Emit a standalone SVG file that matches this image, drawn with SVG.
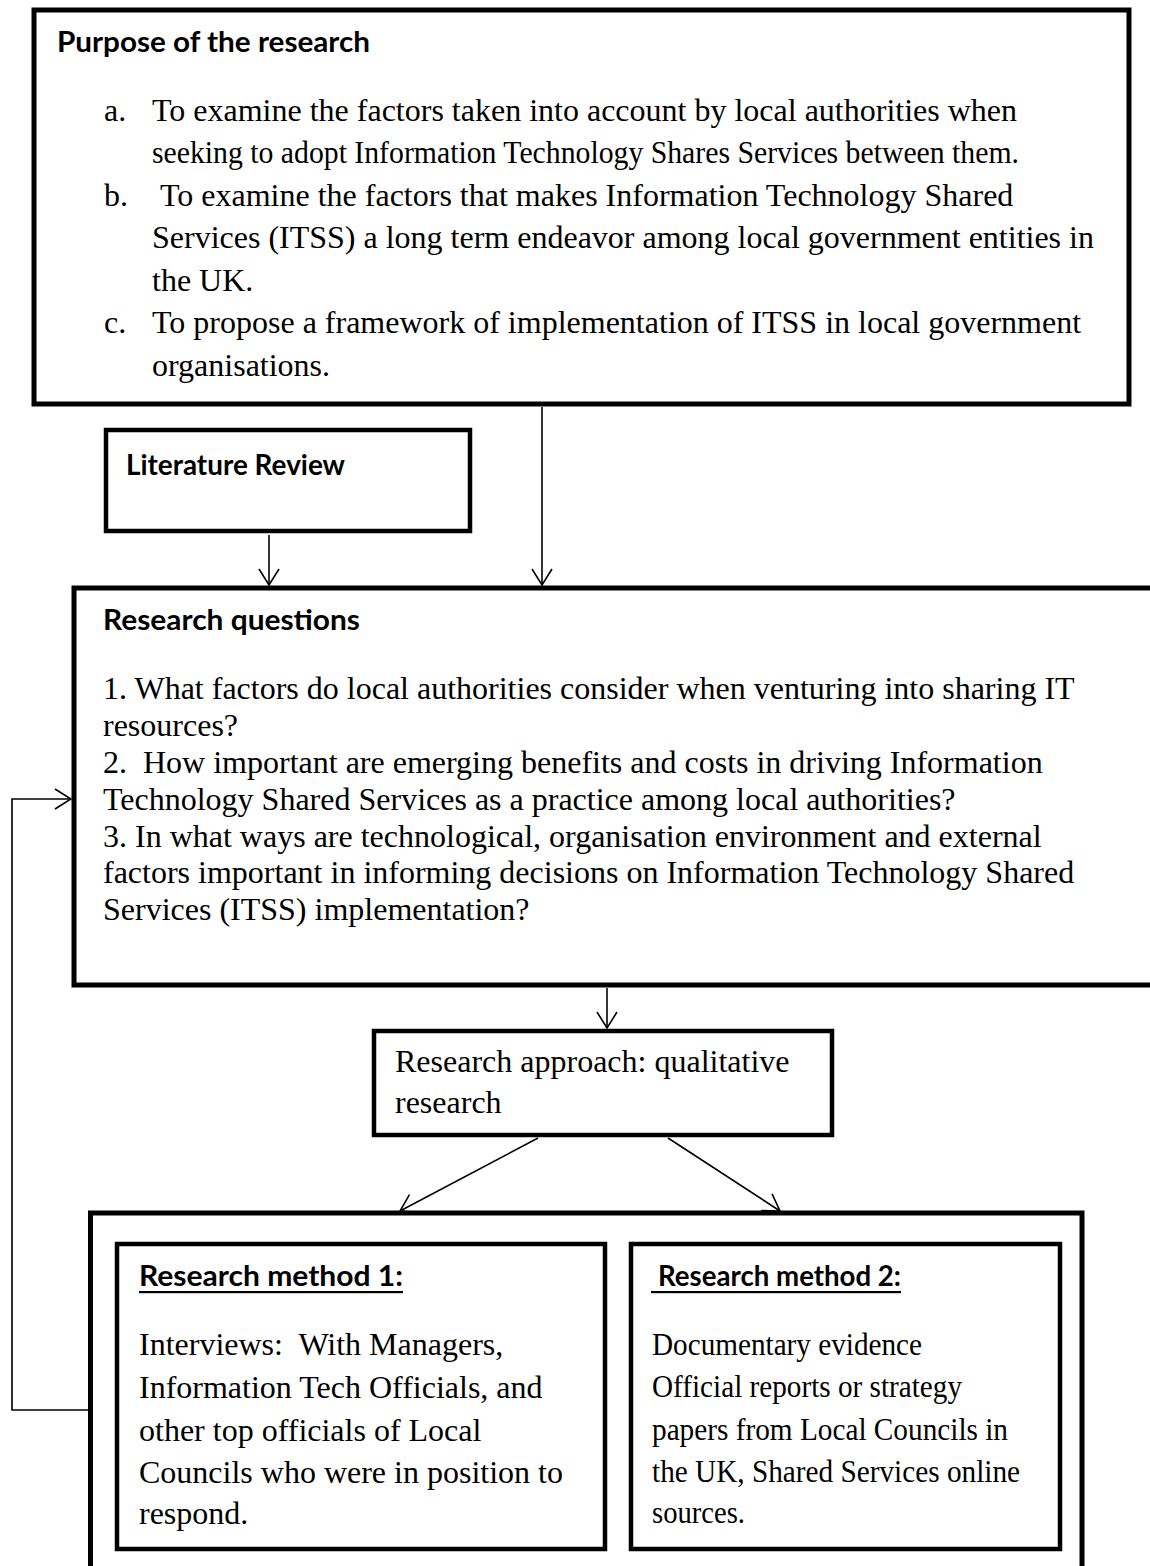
<svg xmlns="http://www.w3.org/2000/svg" width="1150" height="1566" viewBox="0 0 1150 1566">
  <style>
    .box { fill: #ffffff; stroke: #000000; }
    .head { font-family: Lato, "Open Sans", "Liberation Sans", sans-serif; font-weight: 700; font-size: 29px; fill: #000000; }
    .body { font-family: "Liberation Serif", "Times New Roman", serif; font-size: 32px; fill: #000000; }
    .small { font-size: 31px; }
    .link { fill: none; stroke: #000000; stroke-width: 1.6; }
  </style>
  <defs>
    <marker id="arrow" viewBox="0 0 18 22" refX="17" refY="11" markerWidth="18" markerHeight="22" markerUnits="userSpaceOnUse" orient="auto">
      <path d="M1,1 L17,11 L1,21" fill="none" stroke="#000000" stroke-width="1.6"/>
    </marker>
  </defs>

  <rect width="1150" height="1566" fill="#ffffff"/>

  <!-- Purpose of the research -->
  <g id="purpose">
    <rect class="box" x="34" y="10" width="1095" height="394" stroke-width="5"/>
    <text class="head" x="57" y="52" textLength="313" lengthAdjust="spacingAndGlyphs">Purpose of the research</text>
    <text class="body" x="104" y="121">a.</text>
    <text class="body" x="152" y="121">To examine the factors taken into account by local authorities when</text>
    <text class="body" x="152" y="163" textLength="867" lengthAdjust="spacingAndGlyphs">seeking to adopt Information Technology Shares Services between them.</text>
    <text class="body" x="104" y="206">b.</text>
    <text class="body" x="160" y="206">To examine the factors that makes Information Technology Shared</text>
    <text class="body" x="152" y="248">Services (ITSS) a long term endeavor among local government entities in</text>
    <text class="body" x="152" y="291">the UK.</text>
    <text class="body" x="104" y="333">c.</text>
    <text class="body" x="152" y="333">To propose a framework of implementation of ITSS in local government</text>
    <text class="body" x="152" y="376">organisations.</text>
  </g>

  <!-- Literature Review -->
  <g id="literature">
    <rect class="box" x="106" y="430" width="364" height="101" stroke-width="4.5"/>
    <text class="head" x="126" y="475" textLength="219" lengthAdjust="spacingAndGlyphs">Literature Review</text>
  </g>

  <!-- Research questions -->
  <g id="questions">
    <rect class="box" x="74" y="588" width="1100" height="397" stroke-width="5"/>
    <text class="head" x="103" y="630" textLength="257" lengthAdjust="spacingAndGlyphs">Research questions</text>
    <text class="body" x="103" y="699">1. What factors do local authorities consider when venturing into sharing IT</text>
    <text class="body" x="103" y="736">resources?</text>
    <text class="body" x="103" y="773" xml:space="preserve">2.  How important are emerging benefits and costs in driving Information</text>
    <text class="body" x="103" y="810">Technology Shared Services as a practice among local authorities?</text>
    <text class="body" x="103" y="847">3. In what ways are technological, organisation environment and external</text>
    <text class="body" x="103" y="883">factors important in informing decisions on Information Technology Shared</text>
    <text class="body" x="103" y="920">Services (ITSS) implementation?</text>
  </g>

  <!-- Research approach -->
  <g id="approach">
    <rect class="box" x="374" y="1031" width="458" height="104" stroke-width="4.5"/>
    <text class="body" x="395" y="1072">Research approach: qualitative</text>
    <text class="body" x="395" y="1113">research</text>
  </g>

  <!-- Research methods container -->
  <g id="methods">
    <rect class="box" x="90.5" y="1213" width="991.5" height="400" stroke-width="5"/>
  </g>

  <!-- Research method 1 -->
  <g id="method1">
    <rect class="box" x="117" y="1244" width="488" height="305" stroke-width="4.5"/>
    <text class="head" x="139" y="1286" textLength="264" lengthAdjust="spacingAndGlyphs">Research method 1:</text>
    <rect x="139" y="1291" width="264" height="2.2" fill="#000000"/>
    <text class="body" x="139" y="1355" xml:space="preserve">Interviews:  With Managers,</text>
    <text class="body" x="139" y="1398">Information Tech Officials, and</text>
    <text class="body" x="139" y="1441">other top officials of Local</text>
    <text class="body" x="139" y="1483">Councils who were in position to</text>
    <text class="body" x="139" y="1524">respond.</text>
  </g>

  <!-- Research method 2 -->
  <g id="method2">
    <rect class="box" x="631" y="1244" width="429" height="305" stroke-width="4.5"/>
    <text class="head" x="658" y="1286" textLength="243" lengthAdjust="spacingAndGlyphs">Research method 2:</text>
    <rect x="651" y="1291" width="250" height="2.2" fill="#000000"/>
    <text class="body small" x="652" y="1355" textLength="270" lengthAdjust="spacingAndGlyphs">Documentary evidence</text>
    <text class="body small" x="652" y="1397" textLength="310" lengthAdjust="spacingAndGlyphs">Official reports or strategy</text>
    <text class="body small" x="652" y="1440" textLength="356" lengthAdjust="spacingAndGlyphs">papers from Local Councils in</text>
    <text class="body small" x="652" y="1482" textLength="368" lengthAdjust="spacingAndGlyphs">the UK, Shared Services online</text>
    <text class="body small" x="652" y="1523" textLength="93" lengthAdjust="spacingAndGlyphs">sources.</text>
  </g>

  <!-- Connectors -->
  <g id="connectors">
    <line class="link" x1="542" y1="407" x2="542" y2="585" marker-end="url(#arrow)"/>
    <line class="link" x1="269" y1="535" x2="269" y2="585" marker-end="url(#arrow)"/>
    <line class="link" x1="607" y1="988" x2="607" y2="1028" marker-end="url(#arrow)"/>
    <line class="link" x1="538" y1="1138" x2="400" y2="1211" marker-end="url(#arrow)"/>
    <line class="link" x1="668" y1="1138" x2="780" y2="1211" marker-end="url(#arrow)"/>
    <polyline class="link" points="88,1410 12,1410 12,799 71,799" marker-end="url(#arrow)"/>
  </g>
</svg>
